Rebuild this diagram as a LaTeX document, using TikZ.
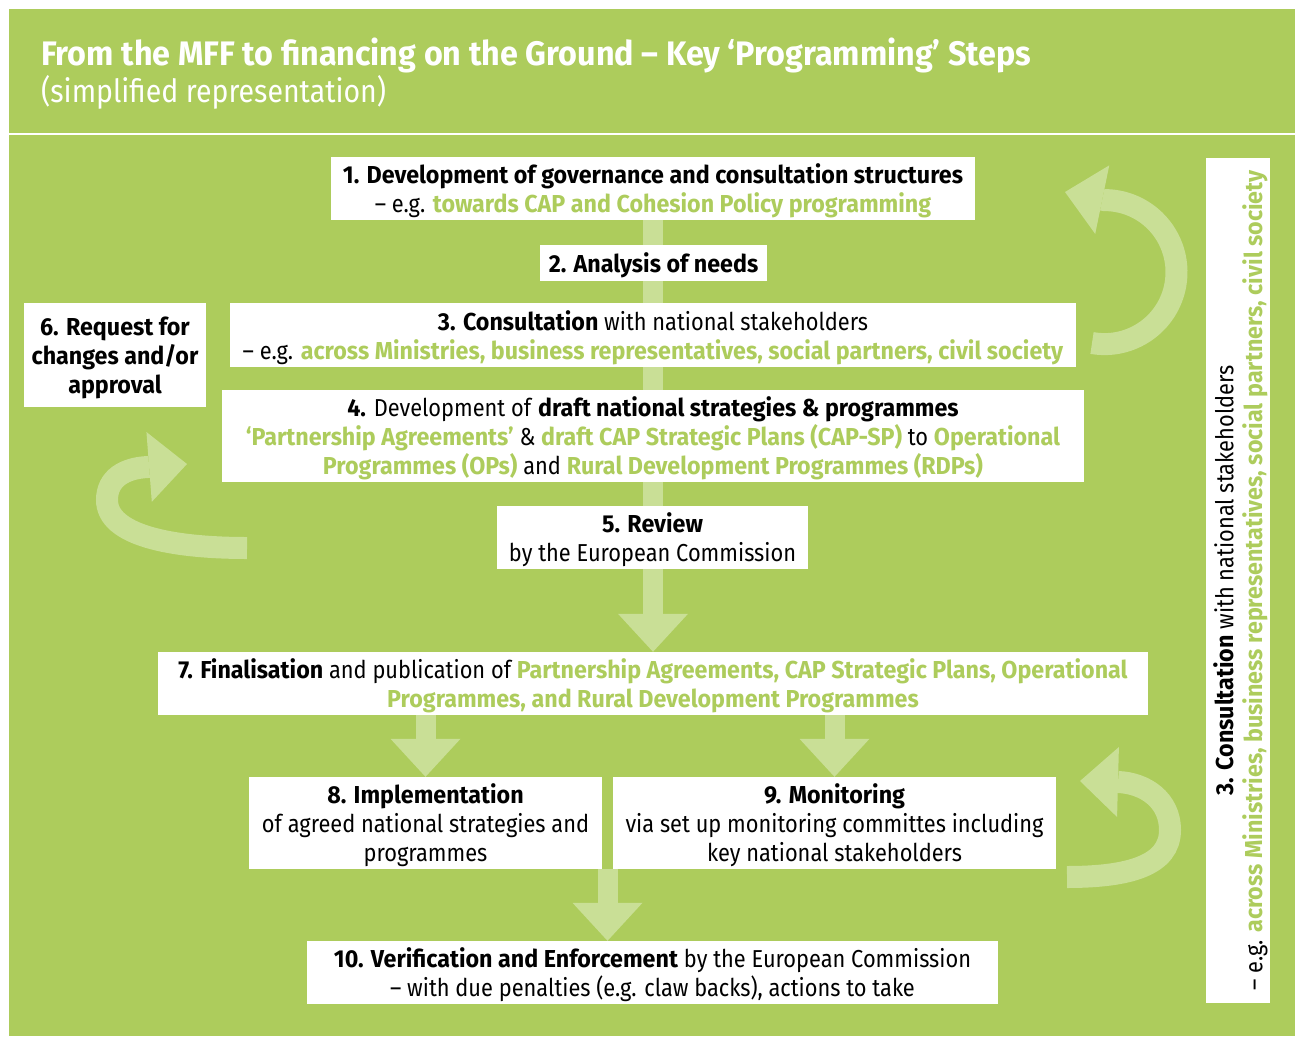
\documentclass[tikz,border=0pt]{standalone}
\usepackage{fontspec}
\setmainfont{Fira Sans}[UprightFeatures={FakeStretch=0.89},BoldFeatures={FakeStretch=0.95}]
\usetikzlibrary{calc}
\usetikzlibrary{backgrounds}
\usetikzlibrary{arrows.meta}
\definecolor{bggreen}{HTML}{ADCC5C}
\definecolor{arrowgreen}{HTML}{C9DF96}
\newcommand{\grn}[1]{\textcolor{bggreen}{\bfseries #1}}
\newcommand{\bodyfont}{\fontsize{24.5}{29}\selectfont}

\begin{document}
\begin{tikzpicture}[x=1pt,y=-1pt,
    box/.style={fill=white,inner sep=0pt,align=center,text depth=0pt,font=\bodyfont},
    bar/.style={draw=arrowgreen,line width=20pt,-{Triangle[width=70pt,length=38pt,line width=0pt]}},
    curvearrow/.style={draw=arrowgreen,line width=22pt,-{Triangle[width=70pt,length=38pt,line width=0pt]}}]
    \useasboundingbox (0,0) rectangle (1300,1036);

    % Title
    \node[anchor=base west,text=white,inner sep=0pt,font=\fontsize{34}{40}\selectfont\bfseries] (title) at (41,65) {From the MFF to financing on the Ground – Key ‘Programming’ Steps};
    \node[anchor=base west,text=white,inner sep=0pt,font=\fontsize{32}{38}\selectfont] (subtitle) at (41,102) {(simplified representation)};

    % Programming steps
    \node[box,minimum width=644,minimum height=63] (b1) at (653,188.5) {\textbf{1. Development of governance and consultation structures}\\– e.g. \grn{towards CAP and Cohesion Policy programming}};
    \node[box,minimum width=227,minimum height=36] (b2) at (653.5,263) {\textbf{2. Analysis of needs}};
    \node[box,minimum width=846,minimum height=64] (b3) at (653,335) {\textbf{3. Consultation} with national stakeholders\\– e.g. \grn{across Ministries, business representatives, social partners, civil society}};
    \node[box,minimum width=182,minimum height=104] (b6) at (115,355) {\textbf{6. Request for}\\\textbf{changes and/or}\\\textbf{approval}};
    \node[box,minimum width=862,minimum height=92] (b4) at (653,436) {\textbf{4.} Development of \textbf{draft national strategies \& programmes}\\\grn{‘Partnership Agreements’} \& \grn{draft CAP Strategic Plans (CAP-SP)} to \grn{Operational}\\\grn{Programmes (OPs)} and \grn{Rural Development Programmes (RDPs)}};
    \node[box,minimum width=311,minimum height=63] (b5) at (652.5,537.5) {\textbf{5. Review}\\by the European Commission};
    \node[box,minimum width=990,minimum height=63] (b7) at (653,683.5) {\textbf{7. Finalisation} and publication of \grn{Partnership Agreements, CAP Strategic Plans, Operational}\\\grn{Programmes, and Rural Development Programmes}};
    \node[box,minimum width=353,minimum height=92] (b8) at (425.5,823) {\textbf{8. Implementation}\\of agreed national strategies and\\programmes};
    \node[box,minimum width=443,minimum height=92] (b9) at (834.5,823) {\textbf{9. Monitoring}\\via set up monitoring committes including\\key national stakeholders};
    \node[box,minimum width=691,minimum height=63] (b10) at (652.5,972.5) {\textbf{10. Verification and Enforcement} by the European Commission\\– with due penalties (e.g. claw backs), actions to take};

    % Consultation along the side
    \node[box,rotate=90,minimum width=845,minimum height=64] (b3side) at (1238,580.5) {\textbf{3. Consultation} with national stakeholders\\– e.g. \grn{across Ministries, business representatives, social partners, civil society}};

    \begin{scope}[on background layer]
        \fill[white] (0,0) rectangle (1300,1036);
        \fill[bggreen] (9,9) rectangle (1295,1036);
        \draw[white,line width=2.5pt] (9,134) -- (1295,134);

        % Main flow
        \draw[bar] (b1.south) -- (b7.north);
        \draw[bar] (b7.south -| b8) -- (b8.north);
        \draw[bar] (b7.south -| b9) -- (b9.north);
        \coordinate (gap) at ($(b8.south east)!.5!(b9.south west)$);
        \draw[bar] (gap) -- (gap |- b10.north);

        % Feedback loops
        \coordinate (top loop) at (1092,343);
        \coordinate (top tip) at (1065,192);
        \draw[curvearrow] (top loop) arc[start angle=260,end angle=450,radius=72pt] -- (top tip);
        \coordinate (left loop) at (247,548);
        \coordinate (left tip) at (187,464);
        \draw[curvearrow] (left loop) .. controls (170,548) and (107,535) .. (107,500) .. controls (107,478) and (125,468) .. (148,467) -- (left tip);
        \coordinate (low loop) at (1067,877);
        \coordinate (low tip) at (1080,781);
        \draw[curvearrow] (low loop) .. controls (1130,877) and (1170,865) .. (1170,830) .. controls (1170,800) and (1145,783) .. (1118,782) -- (low tip);
    \end{scope}
\end{tikzpicture}
\end{document}
